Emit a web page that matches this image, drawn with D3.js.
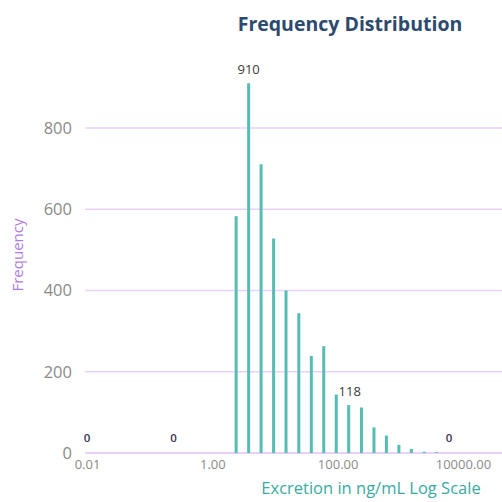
<!DOCTYPE html>
<html>
<head>
<meta charset="utf-8">
<script src="https://cdn.jsdelivr.net/npm/d3@7/dist/d3.min.js"></script>
<style>
  html, body { margin: 0; padding: 0; background: #ffffff; }
  svg { display: block; }
</style>
</head>
<body>
<svg id="chart" width="502" height="502"></svg>
<script>
// Bin centres (ng/mL) and their counts
const binCenters = [0.01, 0.24, 2.4, 3.8, 6.0, 9.5, 15, 24, 38, 60, 95, 150, 240, 380, 600, 950, 1500, 2400, 3800, 6000];
const frequencies = [0, 0, 583, 910, 711, 528, 400, 344, 239, 263, 144, 118, 112, 63, 43, 20, 10, 3, 2, 0];
// Bins whose count is written above the bar
const labelledBins = [0.01, 0.24, 3.8, 150, 6000];
const xTickValues = [0.01, 1, 100, 10000];
const yTickValues = [0, 200, 400, 600, 800];

const chartTitle = "Frequency Distribution";
const xTitle = "Excretion in ng/mL Log Scale";
const yTitle = "Frequency";

const data = binCenters.map((c, i) => ({ center: c, count: frequencies[i] }));

const svg = d3.select("#chart");
const font = "'Open Sans', 'Noto Sans', sans-serif";

const x = d3.scaleLog().domain([0.01, 39000]).range([87, 500]);
const y = d3.scaleLinear().domain([0, 1000]).range([453, 46.75]);

// Horizontal gridlines
svg.append("g")
  .selectAll("line")
  .data(yTickValues)
  .join("line")
  .attr("x1", 85).attr("x2", 502)
  .attr("y1", d => y(d)).attr("y2", d => y(d))
  .attr("stroke", "#e8d2fb")
  .attr("stroke-width", d => d === 0 ? 2 : 1.3);

// Y axis labels
const yAxis = d3.axisLeft(y).tickValues(yTickValues).tickSize(0).tickPadding(0);
svg.append("g")
  .attr("transform", "translate(72,0)")
  .call(yAxis)
  .call(g => g.select(".domain").remove())
  .call(g => g.selectAll("text")
    .attr("fill", "#8a8a8a")
    .attr("font-family", font)
    .attr("font-size", 16.5));

// X axis labels
const xAxis = d3.axisBottom(x).tickValues(xTickValues).tickFormat(d3.format(".2f")).tickSize(0).tickPadding(0);
svg.append("g")
  .attr("transform", "translate(0,460)")
  .call(xAxis)
  .call(g => g.select(".domain").remove())
  .call(g => g.selectAll("text")
    .attr("fill", "#8a8a8a")
    .attr("font-family", font)
    .attr("font-size", 13));

// Bars drawn as thin columns
svg.append("g")
  .selectAll("line")
  .data(data.filter(d => d.count > 0))
  .join("line")
  .attr("x1", d => x(d.center)).attr("x2", d => x(d.center))
  .attr("y1", y(0)).attr("y2", d => y(d.count))
  .attr("stroke", "#55bdb4")
  .attr("stroke-width", 3);

// Count labels
svg.append("g")
  .selectAll("text")
  .data(data.filter(d => labelledBins.includes(d.center)))
  .join("text")
  .attr("x", d => x(d.center) + (d.count > 100 && d.count < 200 ? 1 : 0))
  .attr("y", d => y(d.count) - (d.count === 0 ? 11 : 9))
  .attr("text-anchor", "middle")
  .attr("font-family", font)
  .attr("font-size", d => d.count === 0 ? 11.5 : 13)
  .attr("fill", d => d.count === 0 ? "#3b3550" : "#3a3a3a")
  .attr("font-weight", d => d.count === 0 ? 600 : 500)
  .text(d => d.count);

// Titles
svg.append("text")
  .attr("x", 350).attr("y", 31)
  .attr("text-anchor", "middle")
  .attr("font-family", font)
  .attr("font-size", 19.5)
  .attr("font-weight", 700)
  .attr("fill", "#2c4a6e")
  .text(chartTitle);

svg.append("text")
  .attr("x", 371).attr("y", 494)
  .attr("text-anchor", "middle")
  .attr("font-family", font)
  .attr("font-size", 16.5)
  .attr("fill", "#3aaaa2")
  .text(xTitle);

svg.append("text")
  .attr("transform", "translate(23,255) rotate(-90)")
  .attr("text-anchor", "middle")
  .attr("font-family", font)
  .attr("font-size", 15)
  .attr("fill", "#b07ce0")
  .text(yTitle);
</script>
</body>
</html>
